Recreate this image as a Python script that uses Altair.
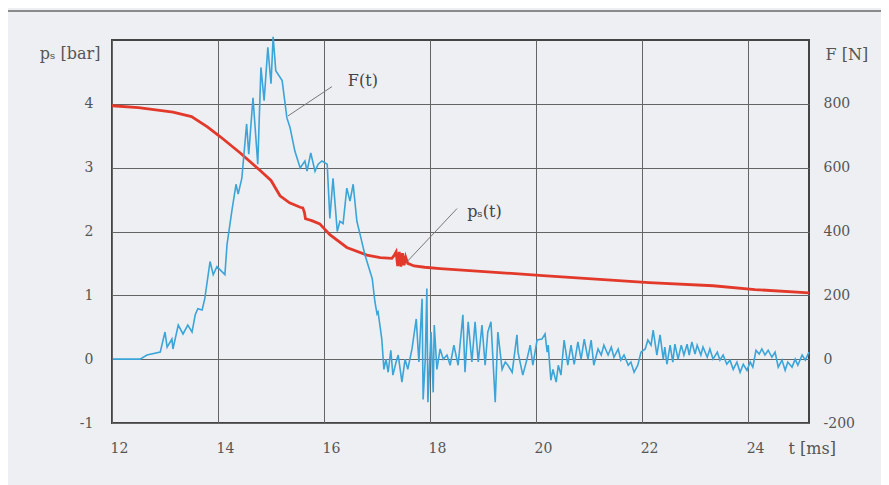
import altair as alt
import pandas as pd

# ---- data ----
ps_t = [12.0, 12.5, 13.15, 13.5, 13.8, 14.05, 14.42, 14.79, 15.0, 15.17, 15.35, 15.55, 15.60,
        15.63, 15.65, 15.77, 15.92, 16.11, 16.43, 16.81, 17.06, 17.28, 17.32, 17.36, 17.39,
        17.42, 17.45, 17.48, 17.51, 17.54, 17.58, 17.7, 17.9, 18.19, 20.13, 22.13, 23.34,
        24.13, 25.15]
ps_val = [3.97, 3.94, 3.87, 3.80, 3.64, 3.48, 3.23, 2.96, 2.80, 2.56, 2.45, 2.38, 2.37,
          2.30, 2.20, 2.17, 2.12, 1.95, 1.75, 1.63, 1.59, 1.58, 1.62, 1.68, 1.46,
          1.68, 1.45, 1.66, 1.47, 1.60, 1.50, 1.46, 1.44, 1.42, 1.31, 1.20, 1.15,
          1.09, 1.04]

f_t = [12.02, 12.53, 12.66, 12.91, 13.00, 13.04, 13.13, 13.15, 13.25, 13.34, 13.43, 13.51, 13.57,
       13.62, 13.70, 13.75, 13.85, 13.91, 13.98, 14.13, 14.17, 14.26, 14.34, 14.38, 14.45, 14.54,
       14.58, 14.66, 14.75, 14.81, 14.87, 14.94, 15.00, 15.04, 15.09, 15.21, 15.30, 15.36, 15.45,
       15.55, 15.64, 15.68, 15.75, 15.83, 15.89, 15.96, 16.06, 16.11, 16.17, 16.25, 16.30, 16.36,
       16.43, 16.49, 16.55, 16.62, 16.68, 16.77, 16.91, 16.96, 17.00, 17.02, 17.09, 17.13, 17.17,
       17.21, 17.26, 17.30, 17.36, 17.40, 17.47, 17.53, 17.58, 17.66, 17.74, 17.79, 17.85, 17.87,
       17.91, 17.94, 17.96, 18.02, 18.06, 18.08, 18.13, 18.19, 18.25, 18.32, 18.38, 18.45, 18.53,
       18.62, 18.66, 18.72, 18.79, 18.85, 18.91, 18.98, 19.04, 19.09, 19.15, 19.23, 19.28, 19.36,
       19.42, 19.47, 19.55, 19.64, 19.66, 19.75, 19.83, 19.89, 19.94, 20.02, 20.11, 20.17, 20.21,
       20.23, 20.28, 20.32, 20.38, 20.42, 20.47, 20.53, 20.60, 20.66, 20.72, 20.79, 20.85, 20.91,
       20.98, 21.04, 21.09, 21.17, 21.23, 21.28, 21.36, 21.42, 21.47, 21.55, 21.60, 21.66, 21.74,
       21.79, 21.85, 21.92, 21.98, 22.06, 22.11, 22.17, 22.21, 22.28, 22.34, 22.40, 22.43, 22.47,
       22.53, 22.58, 22.62, 22.68, 22.74, 22.79, 22.85, 22.89, 22.94, 23.00, 23.04, 23.11, 23.15,
       23.23, 23.28, 23.34, 23.42, 23.47, 23.53, 23.60, 23.66, 23.72, 23.79, 23.85, 23.91, 23.98,
       24.04, 24.09, 24.15, 24.21, 24.26, 24.32, 24.38, 24.45, 24.51, 24.57, 24.64, 24.70, 24.75,
       24.83, 24.89, 24.94, 25.02, 25.08, 25.15]
f_val = [0, 0, 13, 22, 85, 38, 63, 32, 107, 79, 107, 85, 139,
         158, 154, 189, 306, 265, 290, 265, 359, 463, 548, 517, 567, 737,
         642, 819, 611, 914, 810, 977, 863, 1010, 904, 873, 756, 725, 652,
         599, 621, 589, 646, 589, 611, 621, 611, 441, 567, 400, 432, 425,
         536, 495, 548, 432, 391, 328, 252, 180, 142, 148, 63, -32, 0,
         -41, 28, -50, -9, 13, -72, 0, -32, 32, 126, -9, 189, -126,
         0, 221, -135, 85, -104, 107, -32, 32, 0, 13, -19, 44, -19,
         139, -41, 117, -9, 117, -9, 107, -19, 85, 117, -135, 85, -32,
         -9, -19, -41, 76, 22, -50, 0, 44, -19, 60, 63, 79, 22,
         44, -66, -32, -72, -19, -50, 60, -19, 44, -16, 54, 0, 63,
         0, 60, -19, 32, 13, 44, 13, 38, 6, 32, -3, 13, -19,
         -9, -41, -19, 22, 32, 60, 44, 91, 13, 76, 0, 38, -16,
         44, -9, 47, 0, 44, 13, 47, 13, 54, 16, 44, 13, 38,
         6, 32, 0, 22, -3, 13, -16, -3, -32, -9, -41, -16, -35,
         -9, -25, 28, 16, 32, 13, 28, 6, 22, -25, -3, -35, -9,
         -25, 0, -19, 13, -3, 22]

x_ticks = [12, 14, 16, 18, 20, 22, 24]
p_ticks = [-1, 0, 1, 2, 3, 4]
f_ticks = [-200, 0, 200, 400, 600, 800]

labels = ["F(t)", "pₛ(t)"]
label_t = [16.45, 18.70]
label_p = [4.35, 2.31]
leader_t = [15.32, 16.15, 17.57, 18.51]
leader_p = [3.81, 4.27, 1.53, 2.36]
leader_id = ["F", "F", "p", "p"]

ps_df = pd.DataFrame({"t": ps_t, "p": ps_val})
f_df = pd.DataFrame({"t": f_t, "F": f_val})
lab_df = pd.DataFrame({"t": label_t, "p": label_p, "label": labels})
lead_df = pd.DataFrame({"t": leader_t, "p": leader_p, "id": leader_id})

FONT = "DejaVu Serif"
TXT = "#555555"
LBL = "datum.value < 0 ? '-' + abs(datum.value) : '' + datum.value"

xscale = alt.Scale(domain=[12, 25.15], nice=False, zero=False)
pscale = alt.Scale(domain=[-1, 5], nice=False, zero=False)
fscale = alt.Scale(domain=[-200, 1000], nice=False, zero=False)

x_axis = alt.Axis(values=x_ticks, grid=True, gridColor="#646464", gridWidth=1, gridOpacity=1,
                  ticks=False, domain=False, labelFont=FONT, labelFontSize=14, labelColor=TXT,
                  labelPadding=18, labelOffset=7, labelFlush=False, labelExpr=LBL,
                  title="t [ms]", titleFont=FONT, titleFontSize=16, titleFontWeight="normal",
                  titleColor=TXT, titleAngle=0, titleAlign="left", titleBaseline="middle",
                  titleX=676, titleY=25)
p_axis = alt.Axis(values=p_ticks, grid=True, gridColor="#646464", gridWidth=1, gridOpacity=1,
                  ticks=False, domain=False, labelFont=FONT, labelFontSize=14, labelColor=TXT,
                  labelPadding=19, labelFlush=False, labelExpr=LBL,
                  title="pₛ [bar]", titleFont=FONT, titleFontSize=16, titleFontWeight="normal",
                  titleColor=TXT, titleAngle=0, titleAlign="right", titleBaseline="middle",
                  titleX=-12, titleY=13)
f_axis = alt.Axis(values=f_ticks, grid=False, ticks=False, domain=False, orient="right",
                  labelFont=FONT, labelFontSize=14, labelColor=TXT, labelPadding=14,
                  labelFlush=False, labelAlign="left", labelExpr=LBL,
                  title="F [N]", titleFont=FONT, titleFontSize=16, titleFontWeight="normal",
                  titleColor=TXT, titleAngle=0, titleAlign="left", titleBaseline="middle",
                  titleX=16, titleY=14)

red = alt.Chart(ps_df).mark_line(color="#e3392b", strokeWidth=2.8).encode(
    x=alt.X("t:Q", scale=xscale, axis=x_axis),
    y=alt.Y("p:Q", scale=pscale, axis=p_axis),
    order="t:Q",
)

leaders = alt.Chart(lead_df).mark_line(color="#777777", strokeWidth=1).encode(
    x=alt.X("t:Q", scale=xscale, axis=x_axis),
    y=alt.Y("p:Q", scale=pscale, axis=p_axis),
    detail="id:N",
)

texts = alt.Chart(lab_df).mark_text(font=FONT, fontSize=16, color="#444444",
                                    align="left", baseline="middle").encode(
    x=alt.X("t:Q", scale=xscale, axis=x_axis),
    y=alt.Y("p:Q", scale=pscale, axis=p_axis),
    text="label:N",
)

frame_left = alt.Chart(ps_df).mark_rule(color="#8a8a8a", strokeWidth=2).encode(
    x=alt.value(-106), y=alt.value(-29), y2=alt.value(480))
frame_top = alt.Chart(ps_df).mark_rule(color="#8a8a8a", strokeWidth=2).encode(
    x=alt.value(-106), x2=alt.value(790), y=alt.value(-29))

left = alt.layer(frame_left, frame_top, red, leaders, texts)

blue = alt.Chart(f_df).mark_line(color="#3ba4d8", strokeWidth=1.6).encode(
    x=alt.X("t:Q", scale=xscale, axis=x_axis),
    y=alt.Y("F:Q", scale=fscale, axis=f_axis),
    order="t:Q",
)

chart = alt.layer(left, blue).resolve_scale(y="independent").properties(
    width=697, height=383,
    autosize=alt.AutoSizeParams(type="none"),
    padding={"left": 104, "top": 32, "right": 72, "bottom": 62},
    background="#edeff3",
).configure_view(stroke="#444444", strokeWidth=2)

chart.save("out.html", embed_options={"renderer": "svg", "actions": False})
